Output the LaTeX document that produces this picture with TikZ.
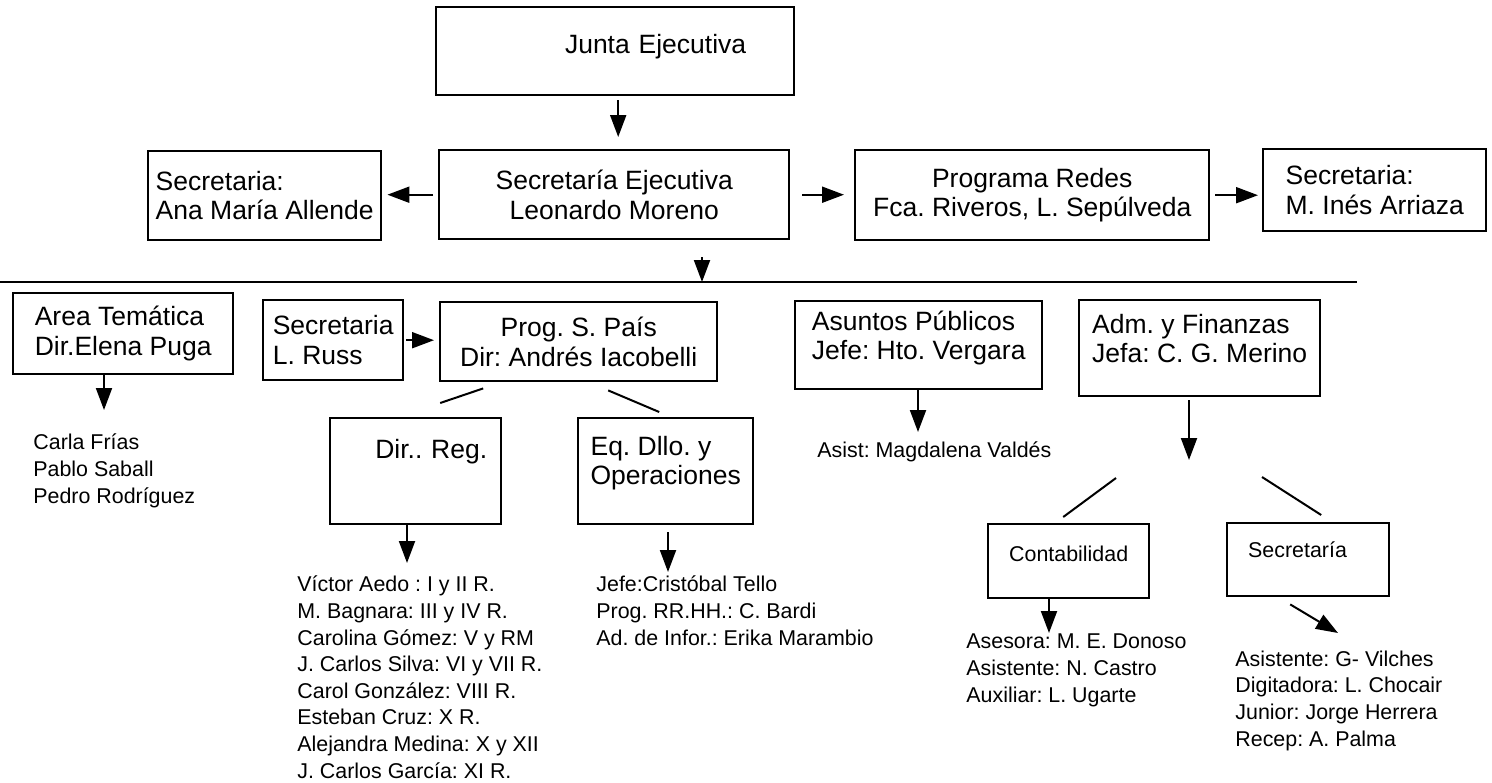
\documentclass[tikz,border=0pt]{standalone}
\usepackage{fontspec}
\setmainfont{Liberation Sans}
\usepackage{tikz}
\usetikzlibrary{positioning, arrows.meta, calc}
\frenchspacing

\begin{document}
\begin{tikzpicture}[x=0.5pt, y=-0.5pt,
            caja/.style={draw=black, line width=1.2pt, inner sep=0pt, anchor=north west, align=center, font=\fontsize{13.25}{14.75}\selectfont},
            cajita/.style={caja, font=\fontsize{10.7}{13.3}\selectfont},
            lista/.style={anchor=base west, align=left, inner sep=0pt, font=\fontsize{10.7}{13.3}\selectfont},
            flecha/.style={line width=1pt, -{Triangle[length=11pt, width=8pt]}},
            linea/.style={line width=1pt}]
            \useasboundingbox (0,0) rectangle (1492,782);

            \node[caja, minimum width=179pt, minimum height=44pt, inner xsep=24pt, text width=131pt, align=right, text depth=7.8pt] (junta) at (435, 6) {Junta Ejecutiva};
            \node[caja, minimum width=175pt, minimum height=44.5pt] (sejec) at (438, 149) {Secretaría Ejecutiva\\Leonardo Moreno};
            \node[caja, minimum width=116.5pt, minimum height=44.5pt, align=left] (ana) at (147, 150) {Secretaria:\\Ana María Allende};
            \node[caja, minimum width=177pt, minimum height=45pt] (redes) at (854, 149) {Programa Redes\\Fca. Riveros, L. Sepúlveda};
            \node[caja, minimum width=111.5pt, minimum height=41pt, align=left] (ines) at (1262, 148) {Secretaria:\\M. Inés Arriaza};

            \node[caja, minimum width=110pt, minimum height=40.5pt, align=left] (area) at (12, 292) {Area Temática\\Dir.Elena Puga};
            \node[caja, minimum width=70pt, minimum height=40pt, align=left] (russ) at (262, 299) {Secretaria\\L. Russ};
            \node[caja, minimum width=138.5pt, minimum height=39.5pt] (pais) at (439, 301) {Prog. S. País\\Dir: Andrés Iacobelli};
            \node[caja, minimum width=123.5pt, minimum height=44pt, align=left, text depth=9.8pt] (asuntos) at (794, 300) {Asuntos Públicos\\Jefe: Hto. Vergara};
            \node[caja, minimum width=120.5pt, minimum height=48pt, align=left, text depth=10pt] (adm) at (1078, 299) {Adm. y Finanzas\\Jefa: C. G. Merino};

            \node[caja, minimum width=85.5pt, minimum height=53pt, inner xsep=7pt, text width=71.5pt, align=right, text depth=22.8pt] (dirreg) at (329, 417) {Dir.. Reg.};
            \node[caja, minimum width=87.5pt, minimum height=53pt, align=left, text depth=10.8pt] (eq) at (577, 417) {Eq. Dllo. y\\Operaciones};
            \node[cajita, minimum width=80.5pt, minimum height=37pt, text depth=7.2pt] (contab) at (987, 523) {Contabilidad};
            \node[cajita, minimum width=81pt, minimum height=36.5pt, inner xsep=10.5pt, text width=60pt, align=left, text depth=10pt] (sec2) at (1226, 522) {Secretaría};

            \node[lista] (tematica) at (33, 503) {Carla Frías\\Pablo Saball\\Pedro Rodríguez};
            \node[lista] (regionales) at (297, 778) {Víctor Aedo : I y II R.\\M. Bagnara: III y IV R.\\Carolina Gómez: V y RM\\J. Carlos Silva: VI y VII R.\\Carol González: VIII R.\\Esteban Cruz: X R.\\Alejandra Medina: X y XII\\J. Carlos García: XI R.};
            \node[lista] (operaciones) at (596, 645) {Jefe:Cristóbal Tello\\Prog. RR.HH.: C. Bardi\\Ad. de Infor.: Erika Marambio};
            \node[lista] (publicos) at (817, 457) {Asist: Magdalena Valdés};
            \node[lista] (contables) at (966, 702) {Asesora: M. E. Donoso\\Asistente: N. Castro\\Auxiliar: L. Ugarte};
            \node[lista] (secretarias) at (1235, 746) {Asistente: G- Vilches\\Digitadora: L. Chocair\\Junior: Jorge Herrera\\Recep: A. Palma};

            \coordinate (rayaO) at (0, 282);
            \coordinate (rayaE) at (1357, 282);
            \coordinate (bus) at (702, 282);
            \coordinate (tematicaTip) at (104, 410);
            \coordinate (regTip) at (407, 563);
            \coordinate (opTip) at (668, 572);
            \coordinate (pubTip) at (918, 432);
            \coordinate (admfork) at (1189, 460);
            \coordinate (contTip) at (1049, 633);
            \coordinate (secTip) at (1338, 633);

            \draw[flecha, shorten <=2pt, shorten >=6pt] ([xshift=1.5pt]junta.south) -- ([xshift=1.5pt]junta.south |- sejec.north);
            \draw[flecha, shorten <=2.5pt, shorten >=2.5pt] (sejec.west) -- (sejec.west -| ana.east);
            \draw[flecha, shorten <=6pt, shorten >=5pt] (sejec.east) -- (sejec.east -| redes.west);
            \draw[flecha, shorten <=2.5pt, shorten >=2pt] (redes.east) -- (redes.east -| ines.west);
            \draw[flecha, shorten <=8.5pt] (sejec.south -| bus) -- (bus);
            \draw[linea] (rayaO) -- (rayaE);

            \draw[flecha] (area.south -| tematicaTip) -- (tematicaTip);
            \draw[flecha, shorten <=1pt, shorten >=2.5pt] (russ.east) -- (russ.east -| pais.west);
            \draw[linea] ([shift={(-95.5,6)}]pais.south) -- ([shift={(24.5,-14)}]dirreg.north);
            \draw[linea] ([shift={(29.5,8)}]pais.south) -- ([shift={(-6.5,-5)}]eq.north);
            \draw[flecha] (dirreg.south -| regTip) -- (regTip);
            \draw[flecha, shorten <=3.5pt] (eq.south -| opTip) -- (opTip);
            \draw[flecha] (asuntos.south -| pubTip) -- (pubTip);
            \draw[flecha, shorten <=1.5pt] (adm.south -| admfork) -- (admfork);
            \draw[linea] ([shift={(-73,18)}]admfork) -- ([shift={(-5.5,-6)}]contab.north);
            \draw[linea] ([shift={(73,17)}]admfork) -- ([shift={(13,-7)}]sec2.north);
            \draw[flecha] (contab.south -| contTip) -- (contTip);
            \draw[flecha] ([shift={(-18,7)}]sec2.south) -- (secTip);
        \end{tikzpicture}
\end{document}
